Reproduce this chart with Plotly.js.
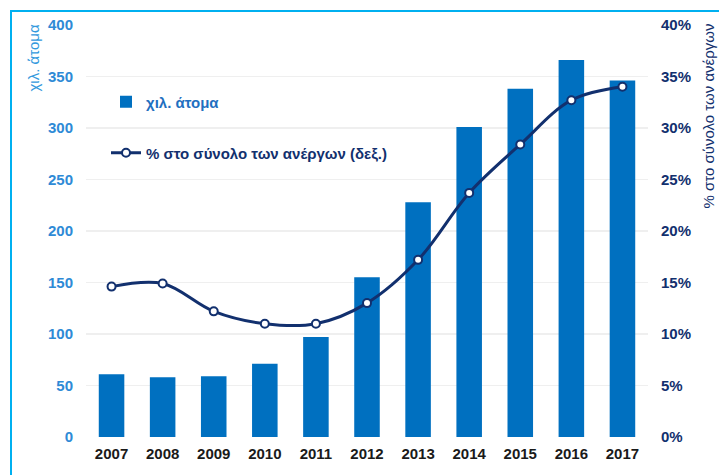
<!DOCTYPE html>
<html>
<head>
<meta charset="utf-8">
<script src="https://cdn.plot.ly/plotly-3.0.1.min.js"></script>
<style>
  html, body { margin: 0; padding: 0; background: #ffffff; }
  #chart { width: 719px; height: 475px; }
</style>
</head>
<body>
<div id="chart"></div>
<script>
const years = ["2007","2008","2009","2010","2011","2012","2013","2014","2015","2016","2017"];
const thousands = [61, 58, 59, 71, 97, 155, 228, 301, 338, 366, 346];
const sharePct = [0.146, 0.149, 0.122, 0.110, 0.110, 0.130, 0.172, 0.237, 0.284, 0.327, 0.340];

const leftTicks = [0, 50, 100, 150, 200, 250, 300, 350, 400];
const rightTicks = [0, 0.05, 0.10, 0.15, 0.20, 0.25, 0.30, 0.35, 0.40];

const barName = "χιλ. άτομα";
const lineName = "% στο σύνολο των ανέργων (δεξ.)";
const leftTitle = "χιλ. άτομα";
const rightTitle = "% στο σύνολο των ανέργων";

const FONT = "Liberation Sans, Arial, sans-serif";
const NAVY = "#12306e";
const BLUE = "#0070c0";
const LBLUE = "#2e8ad6";

const traces = [
  {
    type: "bar", x: years, y: thousands, name: barName,
    marker: { color: BLUE }, width: 0.5, yaxis: "y", legend: "legend",
    hoverinfo: "skip"
  },
  {
    type: "scatter", mode: "lines+markers", x: years, y: sharePct, name: lineName,
    yaxis: "y2", legend: "legend2",
    line: { color: NAVY, width: 3, shape: "spline", smoothing: 1 },
    marker: { size: 8, color: "#ffffff", line: { color: NAVY, width: 2 } },
    hoverinfo: "skip"
  }
];

const L = 86, R = 71, T = 25, B = 38, W = 719, H = 475;
const pw = W - L - R, ph = H - T - B;
const px = v => (v - L) / pw;
const py = v => (H - B - v) / ph;

const layout = {
  width: W, height: H,
  margin: { l: L, r: R, t: T, b: B, pad: 0 },
  paper_bgcolor: "#ffffff", plot_bgcolor: "#ffffff",
  font: { family: FONT },
  bargap: 0.5,
  xaxis: {
    type: "category", range: [-0.5, years.length - 0.5], autorange: false,
    showgrid: false, zeroline: false, showline: false,
    ticks: "", ticklabelstandoff: 6,
    tickfont: { family: FONT, size: 15, color: "#1a1a1a", weight: "bold" }
  },
  yaxis: {
    range: [0, 400], tickvals: leftTicks, showgrid: true, gridcolor: "#efefef", gridwidth: 1.5,
    zeroline: false, showline: false, ticks: "", ticklabelstandoff: 12,
    tickfont: { family: FONT, size: 15, color: LBLUE, weight: "bold" }
  },
  yaxis2: {
    overlaying: "y", side: "right", range: [0, 0.4], tickvals: rightTicks, tickformat: ".0%",
    showgrid: false, zeroline: false, showline: false, ticks: "", ticklabelstandoff: 12,
    tickfont: { family: FONT, size: 15, color: NAVY, weight: "bold" }
  },
  legend: {
    x: px(106), y: py(102), xanchor: "left", yanchor: "middle",
    bgcolor: "rgba(0,0,0,0)",
    font: { family: FONT, size: 15, color: "#1f6fc0", weight: "bold" }
  },
  legend2: {
    x: px(106), y: py(153), xanchor: "left", yanchor: "middle",
    bgcolor: "rgba(0,0,0,0)",
    font: { family: FONT, size: 15, color: NAVY, weight: "bold" }
  },
  annotations: [
    {
      text: leftTitle, xref: "paper", yref: "paper", x: px(33), y: py(23),
      xanchor: "center", yanchor: "top", textangle: -90, showarrow: false,
      font: { family: FONT, size: 15, color: "#3399dd" }
    },
    {
      text: rightTitle, xref: "paper", yref: "paper", x: px(708), y: py(22),
      xanchor: "center", yanchor: "top", textangle: -90, showarrow: false,
      font: { family: FONT, size: 15, color: NAVY }
    }
  ],
  shapes: [
    {
      type: "rect", xref: "paper", yref: "paper",
      x0: px(11), x1: px(740), y0: py(500), y1: py(11),
      line: { color: "#00b0f0", width: 2 }, fillcolor: "rgba(0,0,0,0)", layer: "above"
    }
  ],
  showlegend: true
};

Plotly.newPlot("chart", traces, layout, { staticPlot: true, displayModeBar: false });
</script>
</body>
</html>
